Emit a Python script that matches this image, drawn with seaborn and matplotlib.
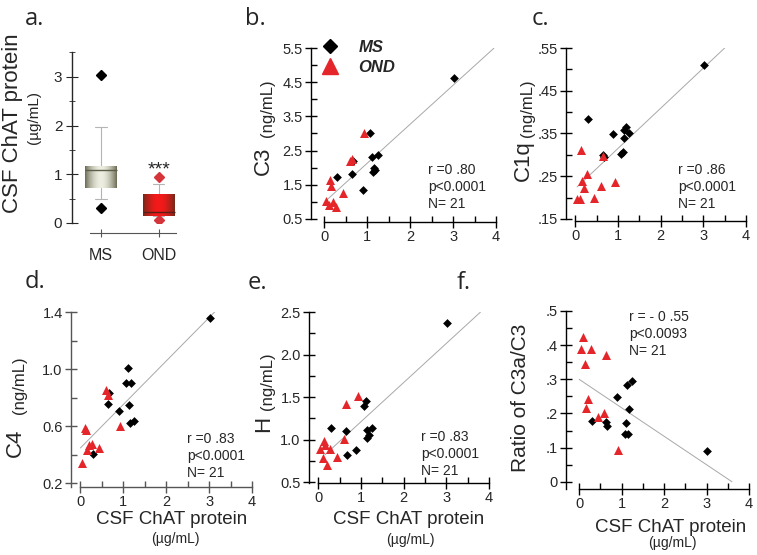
import numpy as np
import matplotlib
matplotlib.use("Agg")
import matplotlib.pyplot as plt
from matplotlib.lines import Line2D
from matplotlib.ticker import FixedLocator, MultipleLocator
import seaborn as sns

# ---- data ----
# CSF ChAT protein (ug/mL), one value per subject, same order in every panel
chat_ms = [0.30, 0.64, 0.66, 0.89, 1.07, 1.11, 1.13, 1.15, 1.18, 1.25, 3.02]
chat_ond = [0.04, 0.10, 0.14, 0.15, 0.20, 0.27, 0.44, 0.59, 0.64, 0.92]

c3_ms = [1.72, 1.82, 2.20, 1.34, 3.00, 2.30, 1.88, 1.98, 1.93, 2.36, 4.63]
c3_ond = [1.03, 0.91, 1.64, 1.45, 1.00, 0.84, 1.27, 2.18, 2.25, 3.00]

c1q_ms = [0.383, 0.300, 0.295, 0.348, 0.302, 0.307, 0.339, 0.358, 0.364, 0.352, 0.510]
c1q_ond = [0.197, 0.197, 0.311, 0.239, 0.222, 0.255, 0.198, 0.228, 0.296, 0.236]

c4_ms = [0.406, 0.752, 0.832, 0.705, 0.902, 1.007, 0.745, 0.621, 0.902, 0.635, 1.358]
c4_ond = [0.343, 0.586, 0.575, 0.430, 0.465, 0.476, 0.448, 0.855, 0.815, 0.598]

h_ms = [1.133, 1.105, 0.820, 0.879, 1.394, 1.457, 1.113, 1.020, 1.050, 1.140, 2.375]
h_ond = [0.887, 0.780, 0.988, 0.937, 0.703, 0.887, 0.793, 1.011, 1.414, 1.515]

ratio_ms = [0.178, 0.175, 0.163, 0.249, 0.141, 0.171, 0.283, 0.139, 0.213, 0.294, 0.091]
ratio_ond = [0.388, 0.424, 0.346, 0.216, 0.242, 0.388, 0.190, 0.200, 0.370, 0.093]

# fitted lines as drawn: (intercept, slope) and x extent
c3_fit, c3_span = (0.99, 1.14), (0.06, 3.95)
c1q_fit, c1q_span = (0.221, 0.094), (0.04, 3.50)
c4_fit, c4_span = (0.446, 0.305), (0.00, 3.13)
h_fit, h_span = (0.751, 0.46), (0.15, 3.80)
ratio_fit, ratio_span = (0.30, -0.0833), (0.00, 3.60)

c3_stats = ["r =0 .80", "p<0.0001", "N= 21"]
c1q_stats = ["r =0 .86", "p<0.0001", "N= 21"]
c4_stats = ["r =0 .83", "p<0.0001", "N= 21"]
h_stats = ["r =0 .83", "p<0.0001", "N= 21"]
ratio_stats = ["r = - 0 .55", "p<0.0093", "N= 21"]

# box plot (panel a)
box_groups = ["MS", "OND"]
box_q1 = [0.72, 0.14]
box_med = [1.09, 0.22]
box_q3 = [1.17, 0.59]
box_lo = [0.49, 0.14]
box_hi = [1.97, 0.80]
box_fliers = [[3.03, 0.31], [0.94, 0.06]]

RED = "#e4262b"
FONT = ["Liberation Sans", "DejaVu Sans"]

sns.set_style("ticks")
plt.rcParams["font.family"] = FONT
plt.rcParams["axes.linewidth"] = 1.0

W, H = 757, 555
fig = plt.figure(figsize=(W / 100, H / 100), dpi=100)


def add_ax(left, top, right, bottom):
    return fig.add_axes([left / W, 1 - bottom / H, (right - left) / W, (bottom - top) / H])


def ftext(x, y, s, **kw):
    return fig.text(x / W, 1 - y / H, s, **kw)


def style_axes(ax, xlim, ylim, ybounds, major, minor, labels, color="black"):
    ax.set_xlim(xlim)
    ax.set_ylim(ylim)
    sns.despine(ax=ax)
    ax.spines["left"].set_bounds(*ybounds)
    ax.spines["bottom"].set_bounds(0, 4)
    for sp in ("left", "bottom"):
        ax.spines[sp].set_color(color)
    ax.xaxis.set_major_locator(MultipleLocator(1))
    ax.xaxis.set_minor_locator(MultipleLocator(0.5))
    ax.yaxis.set_major_locator(FixedLocator(major))
    ax.yaxis.set_minor_locator(FixedLocator(minor))
    ax.set_yticklabels(labels)
    ax.tick_params(which="major", direction="inout", length=8, width=1, color=color,
                   labelsize=10.5, pad=2)
    ax.tick_params(which="minor", direction="in", length=4, width=1, color=color)
    ax.set_xlabel("")
    ax.set_ylabel("")


def scatter_panel(ax, y_ms, y_ond, fit, span):
    xs = np.array(span)
    ax.plot(xs, fit[0] + fit[1] * xs, color="#a8a8a8", lw=0.7, zorder=1)
    sns.scatterplot(x=chat_ms, y=y_ms, marker="D", color="black", s=20, linewidth=0,
                    ax=ax, zorder=2)
    sns.scatterplot(x=chat_ond, y=y_ond, marker="^", color=RED, s=42, linewidth=0,
                    ax=ax, zorder=3)


def stats_text(x, y0, lines):
    for i, s in enumerate(lines):
        ftext(x, y0 + i * 16.8, s, fontsize=10, ha="left", va="center")


# ---- panel a: box plot ----
ax_a = add_ax(72, 52, 180, 223)
stats = []
for i, g in enumerate(box_groups):
    stats.append(dict(label=g, q1=box_q1[i], med=box_med[i], q3=box_q3[i],
                      whislo=box_lo[i], whishi=box_hi[i], fliers=box_fliers[i]))
parts = ax_a.bxp(stats, positions=[0, 1], widths=0.55, patch_artist=True, capwidths=0.2,
                 whiskerprops=dict(color="#b4b4b4", lw=0.8),
                 capprops=dict(color="#b4b4b4", lw=0.8),
                 medianprops=dict(lw=1.0))
shades = [((0.42, 0.42, 0.33), (0.93, 0.93, 0.88), "#5d5d4a", "black"),
          ((0.45, 0.16, 0.10), (0.96, 0.10, 0.10), "#5a2018", "#d6343b")]
t = np.linspace(-1, 1, 80)
prof = np.cos(t * np.pi / 2) ** 0.9
for i, patch in enumerate(parts["boxes"]):
    edge, mid, medc, flc = shades[i]
    patch.set_facecolor(edge)
    patch.set_edgecolor("none")
    img = np.array(edge)[None, :] + (np.array(mid) - np.array(edge))[None, :] * prof[:, None]
    im = ax_a.imshow(img[None, :, :], extent=[i - 0.275, i + 0.275, box_q1[i], box_q3[i]],
                     aspect="auto", interpolation="bilinear", zorder=2.1)
    im.set_clip_path(patch)
    parts["medians"][i].set_color(medc)
    parts["medians"][i].set_zorder(2.5)
    fl = parts["fliers"][i]
    fl.set_marker("D")
    fl.set_markersize(5)
    fl.set_markerfacecolor(flc)
    fl.set_markeredgecolor(flc)
ax_a.set_xlim(-0.50, 1.37)
ax_a.set_ylim(0, 3.51)
sns.despine(ax=ax_a)
ax_a.spines["left"].set_bounds(0, 3.51)
ax_a.spines["bottom"].set_position(("outward", 7))
ax_a.spines["bottom"].set_bounds(-0.19, 1.30)
ax_a.spines["bottom"].set_color("#555555")
ax_a.spines["bottom"].set_linewidth(0.8)
ax_a.set_xticks([0, 1])
ax_a.set_xticklabels(box_groups)
ax_a.yaxis.set_major_locator(FixedLocator([0, 1, 2, 3]))
ax_a.yaxis.set_minor_locator(FixedLocator([0.5, 1.5, 2.5, 3.5]))
ax_a.tick_params(axis="y", which="major", direction="inout", length=8, labelsize=11, pad=3)
ax_a.tick_params(axis="y", which="minor", direction="inout", length=4)
ax_a.tick_params(axis="x", direction="inout", length=6, color="#555555", labelsize=11.5, pad=8)
ftext(13, 123, "CSF ChAT protein", fontsize=16, rotation=90, ha="center", va="center")
ftext(34, 118, "(µg/mL)", fontsize=11, rotation=90, ha="center", va="center")
ftext(159, 170, "***", fontsize=14, ha="center", va="center")

# ---- panel b: C3 ----
ax_b = add_ax(311, 48, 496, 222)
scatter_panel(ax_b, c3_ms, c3_ond, c3_fit, c3_span)
style_axes(ax_b, (-0.31, 4.0), (0.41, 5.5), (0.5, 5.5),
           [0.5, 1.5, 2.5, 3.5, 4.5, 5.5], [1, 2, 3, 4, 5],
           ["0.5", "1.5", "2.5", "3.5", "4.5", "5.5"])
ftext(263, 161, "C3", fontsize=16, rotation=90, ha="center", va="center")
ftext(267, 108, "(ng/mL)", fontsize=12, rotation=90, ha="center", va="center")
stats_text(428, 170, c3_stats)
leg_h = [Line2D([], [], marker="D", ls="none", color="black", markersize=7),
         Line2D([], [], marker="^", ls="none", color=RED, markersize=11)]
ax_b.legend(leg_h, ["MS", "OND"], loc="upper left", bbox_to_anchor=(322 / W, 1 - 40 / H),
            bbox_transform=fig.transFigure, frameon=False, borderpad=0, borderaxespad=0,
            handlelength=1.0, handletextpad=1.2, labelspacing=0.3,
            prop=dict(weight="bold", style="italic", size=12))

# ---- panel c: C1q ----
ax_c = add_ax(566, 48, 746, 221)
scatter_panel(ax_c, c1q_ms, c1q_ond, c1q_fit, c1q_span)
style_axes(ax_c, (-0.22, 4.0), (0.145, 0.55), (0.15, 0.55),
           [0.15, 0.25, 0.35, 0.45, 0.55], [0.20, 0.30, 0.40, 0.50],
           [".15", ".25", ".35", ".45", ".55"])
ftext(523, 161, "C1q", fontsize=16, rotation=90, ha="center", va="center")
ftext(528, 108, "(ng/mL)", fontsize=12, rotation=90, ha="center", va="center")
stats_text(678, 170, c1q_stats)

# ---- panel d: C4 ----
ax_d = add_ax(71, 312, 252, 487)
scatter_panel(ax_d, c4_ms, c4_ond, c4_fit, c4_span)
style_axes(ax_d, (-0.22, 4.0), (0.172, 1.4), (0.172, 1.4),
           [0.2, 0.6, 1.0, 1.4], [0.4, 0.8, 1.2],
           ["0.2", "0.6", "1.0", "1.4"], color="#555555")
ftext(15, 443, "C4", fontsize=16, rotation=90, ha="center", va="center")
ftext(20, 385, "(ng/mL)", fontsize=12, rotation=90, ha="center", va="center")
stats_text(187, 439, c4_stats)
ftext(172, 520, "CSF ChAT protein", fontsize=13.5, ha="center", va="center")
ftext(175, 539, "(µg/mL)", fontsize=10, ha="center", va="center")

# ---- panel e: H ----
ax_e = add_ax(309, 312, 489, 483)
scatter_panel(ax_e, h_ms, h_ond, h_fit, h_span)
style_axes(ax_e, (-0.22, 4.0), (0.49, 2.5), (0.49, 2.5),
           [0.5, 1.0, 1.5, 2.0, 2.5], [0.75, 1.25, 1.75, 2.25],
           ["0.5", "1.0", "1.5", "2.0", "2.5"])
ftext(264, 424, "H", fontsize=16, rotation=90, ha="center", va="center")
ftext(267, 381, "(ng/mL)", fontsize=12, rotation=90, ha="center", va="center")
stats_text(421, 437, h_stats)
ftext(409, 520, "CSF ChAT protein", fontsize=13.5, ha="center", va="center")
ftext(410, 540, "(µg/mL)", fontsize=10, ha="center", va="center")

# ---- panel f: C3a/C3 ----
ax_f = add_ax(566, 311, 749, 489)
scatter_panel(ax_f, ratio_ms, ratio_ond, ratio_fit, ratio_span)
style_axes(ax_f, (-0.31, 4.0), (-0.021, 0.5), (-0.021, 0.5),
           [0, 0.1, 0.2, 0.3, 0.4, 0.5], [0.05, 0.15, 0.25, 0.35, 0.45],
           ["0", ".1", ".2", ".3", ".4", ".5"])
ftext(520, 398, "Ratio of C3a/C3", fontsize=15, rotation=90, ha="center", va="center")
stats_text(629, 317, ratio_stats)
ftext(671, 527, "CSF ChAT protein", fontsize=13.5, ha="center", va="center")
ftext(672, 543, "(µg/mL)", fontsize=10, ha="center", va="center")

# panel letters
for lab, x, y in [("a.", 25, 25), ("b.", 245, 25), ("c.", 532, 25),
                  ("d.", 25, 288), ("e.", 248, 289), ("f.", 457, 289)]:
    ftext(x, y, lab, family=["Open Sans", "DejaVu Sans"], fontsize=17, ha="left", va="baseline")

fig.savefig("out.png", dpi=100)
